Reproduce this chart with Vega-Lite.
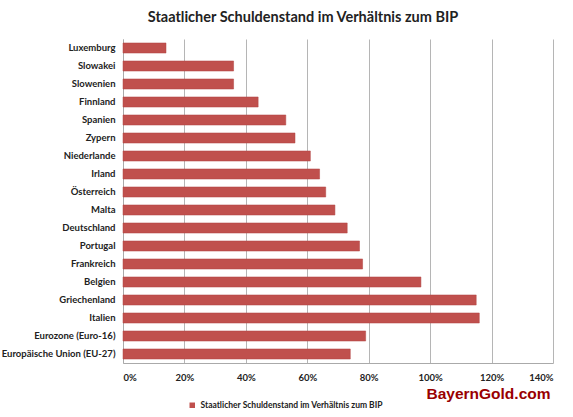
{
  "$schema": "https://vega.github.io/schema/vega-lite/v6.json",
  "autosize": "none",
  "width": 430,
  "height": 324,
  "padding": {"left": 123, "top": 39, "right": 20, "bottom": 54},
  "background": "white",
  "title": {
    "text": "Staatlicher Schuldenstand im Verhältnis zum BIP",
    "font": "Lato",
    "fontSize": 14.5,
    "fontWeight": "bold",
    "color": "#222222",
    "anchor": "middle",
    "frame": "group",
    "dx": -35,
    "offset": 14
  },
  "data": {
    "values": [
      {"land": "Luxemburg", "wert": 14, "serie": "Staatlicher Schuldenstand im Verhältnis zum BIP"},
      {"land": "Slowakei", "wert": 36, "serie": "Staatlicher Schuldenstand im Verhältnis zum BIP"},
      {"land": "Slowenien", "wert": 36, "serie": "Staatlicher Schuldenstand im Verhältnis zum BIP"},
      {"land": "Finnland", "wert": 44, "serie": "Staatlicher Schuldenstand im Verhältnis zum BIP"},
      {"land": "Spanien", "wert": 53, "serie": "Staatlicher Schuldenstand im Verhältnis zum BIP"},
      {"land": "Zypern", "wert": 56, "serie": "Staatlicher Schuldenstand im Verhältnis zum BIP"},
      {"land": "Niederlande", "wert": 61, "serie": "Staatlicher Schuldenstand im Verhältnis zum BIP"},
      {"land": "Irland", "wert": 64, "serie": "Staatlicher Schuldenstand im Verhältnis zum BIP"},
      {"land": "Österreich", "wert": 66, "serie": "Staatlicher Schuldenstand im Verhältnis zum BIP"},
      {"land": "Malta", "wert": 69, "serie": "Staatlicher Schuldenstand im Verhältnis zum BIP"},
      {"land": "Deutschland", "wert": 73, "serie": "Staatlicher Schuldenstand im Verhältnis zum BIP"},
      {"land": "Portugal", "wert": 77, "serie": "Staatlicher Schuldenstand im Verhältnis zum BIP"},
      {"land": "Frankreich", "wert": 78, "serie": "Staatlicher Schuldenstand im Verhältnis zum BIP"},
      {"land": "Belgien", "wert": 97, "serie": "Staatlicher Schuldenstand im Verhältnis zum BIP"},
      {"land": "Griechenland", "wert": 115, "serie": "Staatlicher Schuldenstand im Verhältnis zum BIP"},
      {"land": "Italien", "wert": 116, "serie": "Staatlicher Schuldenstand im Verhältnis zum BIP"},
      {"land": "Eurozone (Euro-16)", "wert": 79, "serie": "Staatlicher Schuldenstand im Verhältnis zum BIP"},
      {"land": "Europäische Union (EU-27)", "wert": 74, "serie": "Staatlicher Schuldenstand im Verhältnis zum BIP"}
    ]
  },
  "mark": {"type": "bar", "stroke": "#b04542", "strokeWidth": 0.5},
  "encoding": {
    "y": {
      "field": "land",
      "type": "nominal",
      "sort": null,
      "scale": {"paddingInner": 0.44, "paddingOuter": 0.22},
      "axis": {
        "title": null,
        "labelFont": "Lato",
        "labelFontSize": 9.5,
        "labelFontWeight": "bold",
        "labelColor": "#222222",
        "labelPadding": 8,
        "ticks": false,
        "domainColor": "#aaaaaa",
        "grid": false
      }
    },
    "x": {
      "field": "wert",
      "type": "quantitative",
      "scale": {"domain": [0, 140], "nice": false},
      "axis": {
        "values": [0, 20, 40, 60, 80, 100, 120, 140],
        "labelExpr": "datum.value + '%'",
        "labelFont": "Lato",
        "labelFontSize": 9.5,
        "labelFontWeight": "bold",
        "labelColor": "#222222",
        "labelPadding": 9,
        "ticks": false,
        "domainColor": "#aaaaaa",
        "gridColor": "#b5b5b5",
        "gridWidth": 1,
        "title": "BayernGold.com",
        "titleAnchor": "end",
        "titleAlign": "right",
        "titleFont": "Liberation Sans",
        "titleFontSize": 15.5,
        "titleFontWeight": "bold",
        "titleColor": "#990000",
        "titlePadding": 5,
        "titleX": 427
      }
    },
    "color": {
      "field": "serie",
      "type": "nominal",
      "scale": {"range": ["#c0504d"]},
      "legend": {
        "title": null,
        "orient": "none",
        "legendX": 65,
        "legendY": 362,
        "symbolType": "square",
        "symbolSize": 30,
        "symbolStrokeWidth": 0,
        "labelFont": "Lato",
        "labelFontSize": 8.5,
        "labelFontWeight": "bold",
        "labelColor": "#222222",
        "labelLimit": 400
      }
    }
  },
  "config": {"view": {"stroke": null}}
}
